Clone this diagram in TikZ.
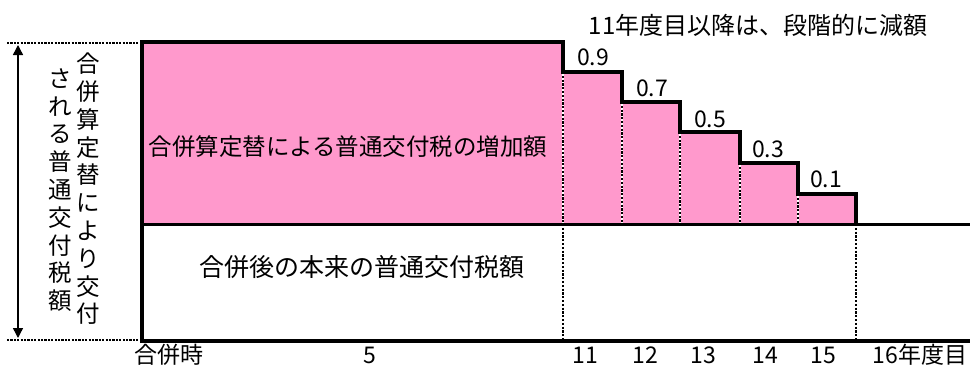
\documentclass[tikz,border=0pt]{standalone}
\usepackage{fontspec}
\newfontfamily\jp{Noto Sans CJK JP}
\usetikzlibrary{arrows.meta}
\definecolor{areapink}{RGB}{255,153,204}
\tikzset{
  lbl/.style={inner sep=0pt, font=\jp\fontsize{23}{27}\selectfont},
  vtext/.style={inner sep=0pt, align=center, font=\jp\fontsize{23.5}{27.8}\selectfont},
  thickline/.style={line width=4.5pt},
  midline/.style={line width=3pt},
  dotv/.style={line width=2.4pt, dash pattern=on 2.2pt off 1.6pt},
  dotvbg/.style={line width=2.4pt, white},
  doth/.style={line width=2.4pt, dash pattern=on 2.2pt off 1.2pt},
}
\begin{document}
\begin{tikzpicture}[x=1pt,y=-1pt]
\useasboundingbox (0,0) rectangle (970,365);
% pink area
\fill[areapink] (142,42) -- (563,42) -- (563,72) -- (622,72) -- (622,102) -- (680,102) -- (680,132) -- (740,132) -- (740,163) -- (798,163) -- (798,194) -- (856,194) -- (856,224) -- (142,224) -- cycle;
% coordinates for dotted lines
\coordinate (d1t) at (563,72);  \coordinate (d1b) at (563,341);
\coordinate (d2t) at (622,102); \coordinate (d2b) at (622,224);
\coordinate (d3t) at (680,132); \coordinate (d3b) at (680,224);
\coordinate (d4t) at (740,163); \coordinate (d4b) at (740,224);
\coordinate (d5t) at (798,194); \coordinate (d5b) at (798,224);
\coordinate (d6t) at (856,224); \coordinate (d6b) at (856,341);
\foreach \i in {1,...,6}{
  \draw[dotvbg] (d\i t) -- (d\i b);
  \draw[dotv] (d\i t) -- (d\i b);
}
% horizontal lines
\coordinate (ml) at (142,224); \coordinate (mr) at (970,224);
\draw[midline] (ml) -- (mr);
\coordinate (bl) at (142,341); \coordinate (br) at (970,341);
\draw[thickline] (bl) -- (br);
% step outline
\draw[thickline, line join=miter] (142,343) -- (142,42) -- (563,42) -- (563,72) -- (622,72) -- (622,102) -- (680,102) -- (680,132) -- (740,132) -- (740,163) -- (798,163) -- (798,194) -- (856,194) -- (856,225.5);
% left dotted guides
\coordinate (gt1) at (7,43); \coordinate (gt2) at (139,43);
\coordinate (gb1) at (7,340); \coordinate (gb2) at (139,340);
\draw[doth] (gt1) -- (gt2);
\draw[doth] (gb1) -- (gb2);
% double arrow
\coordinate (at) at (18,45); \coordinate (ab) at (18,338);
\draw[line width=1.4pt, {Triangle[length=10pt,width=10pt]}-{Triangle[length=10pt,width=10pt]}] (at) -- (ab);
% vertical texts
\node[vtext] (vr) at (88,189) {合\\併\\算\\定\\替\\に\\よ\\り\\交\\付};
\node[vtext] (vl) at (60,190) {さ\\れ\\る\\普\\通\\交\\付\\税\\額};
% main texts
\node[lbl, font=\jp\fontsize{23.5}{27}\selectfont] (inc) at (348,147) {合併算定替による普通交付税の増加額};
\node[lbl, font=\jp\fontsize{25}{27}\selectfont] (base) at (362,267) {合併後の本来の普通交付税額};
\node[lbl, font=\jp\fontsize{24}{27}\selectfont] (title) at (758,25) {11年度目以降は、段階的に減額};
% step values
\node[lbl] (v9) at (593,57) {0.9};
\node[lbl] (v7) at (652,88) {0.7};
\node[lbl] (v5) at (710,119) {0.5};
\node[lbl] (v3) at (768,149) {0.3};
\node[lbl] (v1) at (826,179) {0.1};
% axis labels
\node[lbl, anchor=base] (x0) at (169,363) {合併時};
\node[lbl, anchor=base] (x5) at (370,363) {5};
\node[lbl, anchor=base] (x11) at (585,363) {11};
\node[lbl, anchor=base] (x12) at (645,363) {12};
\node[lbl, anchor=base] (x13) at (703,363) {13};
\node[lbl, anchor=base] (x14) at (765,363) {14};
\node[lbl, anchor=base] (x15) at (823,363) {15};
\node[lbl, anchor=base] (x16) at (920,363) {16年度目};
\end{tikzpicture}
\end{document}
